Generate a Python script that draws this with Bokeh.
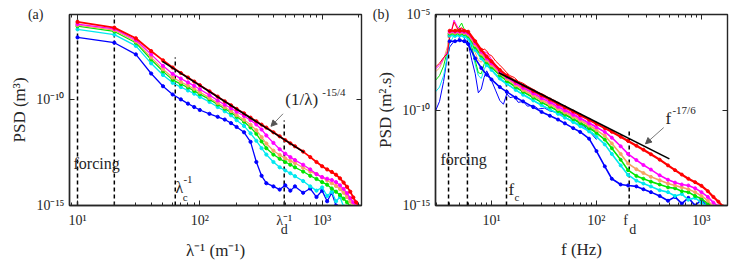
import numpy as np
from bokeh.plotting import figure
from bokeh.layouts import row
from bokeh.models import LogAxis, FixedTicker, Label, Arrow, NormalHead, Range1d
from bokeh.embed import file_html
from bokeh.resources import INLINE

FONT = "Liberation Serif"
TXT = "#262626"
NB = "\u00a0"
ZW = "\u200b"
EN = "\u2002"

k_a = [10, 20, 30, 40, 50, 60, 70, 80, 90, 100, 120, 140, 160, 180, 200, 230, 260, 290, 320, 350,
       400, 450, 500, 550, 600, 700, 800, 900, 1000, 1100, 1200, 1300, 1400, 1500, 1600, 1700,
       1800, 1900, 2000, 2100]
a_red = [-6.35, -6.62, -7.12, -7.72, -8.16, -8.5, -8.76, -8.97, -9.16, -9.33, -9.62, -9.87, -10.09,
         -10.28, -10.45, -10.66, -10.86, -11.03, -11.19, -11.33, -11.55, -11.74, -11.92, -12.07,
         -12.21, -12.46, -12.72, -12.95, -13.15, -13.3, -13.42, -13.55, -13.72, -13.92, -14.12,
         -14.35, -14.62, -14.85, -15.05, -15.3]
a_magenta = [-6.45, -6.68, -7.2, -7.88, -8.42, -8.8, -9.02, -9.2, -9.36, -9.52, -9.8, -10.05, -10.25,
             -10.42, -10.58, -10.78, -10.98, -11.18, -11.42, -11.7, -12.05, -12.35, -12.56, -12.72,
             -12.86, -13.08, -13.3, -13.52, -13.66, -13.74, -13.8, -13.9, -14.05, -14.22, -14.42,
             -14.65, -14.85, -15.05]
a_orange = [-6.5, -6.74, -7.27, -8.02, -8.58, -8.97, -9.18, -9.35, -9.5, -9.66, -9.93, -10.17, -10.37,
            -10.55, -10.74, -10.96, -11.2, -11.45, -11.78, -12.08, -12.42, -12.62, -12.78, -12.9,
            -13.0, -13.22, -13.4, -13.52, -13.68, -13.82, -13.95, -14.08, -14.22, -14.4, -14.6,
            -14.82, -15.05]
a_green = [-6.55, -6.8, -7.33, -8.12, -8.68, -9.08, -9.28, -9.44, -9.6, -9.75, -10.0, -10.24, -10.44,
           -10.62, -10.82, -11.05, -11.32, -11.62, -11.98, -12.3, -12.6, -12.8, -12.95, -13.08,
           -13.2, -13.4, -13.6, -13.75, -13.9, -14.02, -14.2, -14.35, -14.5, -14.68, -14.85, -15.05]
a_cyan = [-6.7, -6.95, -7.48, -8.3, -8.85, -9.22, -9.42, -9.58, -9.73, -9.88, -10.12, -10.36, -10.56,
          -10.75, -10.98, -11.25, -11.6, -11.95, -12.3, -12.6, -12.95, -13.2, -13.35, -13.48,
          -13.62, -13.85, -14.1, -14.3, -14.15, -14.55, -14.35, -14.8, -14.6, -15.05]
a_blue = [-7.08, -7.33, -7.88, -8.78, -9.38, -9.77, -10.0, -10.2, -10.36, -10.5, -10.68, -10.82, -10.95,
          -11.12, -11.3, -11.55, -12.0, -12.95, -13.6, -13.95, -14.1, -14.25, -14.05, -14.3, -14.1,
          -14.4, -14.2, -14.6, -14.3, -14.8, -14.4, -15.0]
a_fit_k = [49.4, 713]
a_fit_psd = [6.2e-9, 3.2e-13]
a_marks_k = [10, 20, 63, 490]
a_marks_top = [6.3e-7, 6.3e-7, 9.5e-9, 1.0e-11]
a_xticks = [10, 100, 490, 1000]
a_xtick_labels = ["10¹", "10²", "λ⁻¹\nd", "10³"]

f_lo = [2.93, 3.2, 3.5, 3.8, 4.0, 4.4, 4.8, 5.2, 5.6, 6.0, 6.5, 7.0, 7.5, 8.0, 8.5, 9.0, 9.5, 10, 11, 12,
        13, 14, 15, 16.5, 18, 20, 22, 25, 28, 32, 36, 40, 45, 50, 56, 63, 70, 80, 90, 100]
b_lo_red = [-7.75, -7.55, -7.25, -7.05, -6.2, -5.4, -5.8, -5.7, -5.9, -5.95, -6.25, -6.55, -6.8, -6.95,
            -6.8, -6.9, -7.1, -7.15, -7.45, -7.65, -7.85, -8.05, -8.2, -8.3, -8.5, -8.6, -8.75, -8.92,
            -9.08, -9.22, -9.4, -9.5, -9.68, -9.8, -9.97, -10.08, -10.24, -10.38, -10.55, -10.66]
b_lo_magenta = [-7.85, -7.65, -7.3, -6.95, -6.2, -5.3, -5.7, -5.75, -5.85, -5.95, -6.35, -6.7, -6.95,
                -7.0, -6.95, -7.0, -7.15, -7.35, -7.65, -7.85, -8.02, -8.2, -8.32, -8.45, -8.62, -8.78,
                -8.92, -9.08, -9.22, -9.38, -9.55, -9.66, -9.8, -9.97, -10.1, -10.25, -10.4, -10.58,
                -10.72, -10.88]
b_lo_orange = [-8.0, -7.8, -7.35, -6.7, -6.05, -5.8, -5.75, -5.7, -5.8, -5.95, -6.5, -7.0, -7.4, -7.5,
               -7.3, -7.2, -7.35, -7.55, -7.85, -8.05, -8.22, -8.35, -8.45, -8.6, -8.75, -8.9, -9.04,
               -9.2, -9.35, -9.52, -9.68, -9.8, -9.94, -10.1, -10.22, -10.38, -10.52, -10.7, -10.86, -11.02]
b_lo_green = [-8.45, -8.2, -7.7, -6.9, -6.2, -5.9, -5.75, -5.45, -5.9, -6.05, -6.7, -7.4, -8.05, -8.1,
              -7.6, -7.3, -7.45, -7.7, -8.0, -8.2, -8.35, -8.48, -8.58, -8.72, -8.88, -9.03, -9.15, -9.35,
              -9.5, -9.68, -9.82, -9.95, -10.08, -10.22, -10.35, -10.5, -10.65, -10.82, -10.98, -11.15]
b_lo_cyan = [-9.05, -8.8, -8.2, -7.2, -6.5, -6.1, -6.0, -5.8, -6.05, -6.2, -6.9, -7.6, -8.2, -8.35, -7.9,
             -7.6, -7.7, -7.9, -8.2, -8.4, -8.55, -8.65, -8.75, -8.9, -9.05, -9.2, -9.3, -9.5, -9.65,
             -9.82, -9.97, -10.1, -10.22, -10.38, -10.5, -10.65, -10.8, -10.98, -11.15, -11.35]
b_lo_blue = [-10.05, -9.55, -8.5, -7.2, -6.7, -6.4, -6.35, -5.95, -6.3, -6.5, -7.4, -8.1, -9.1, -8.9,
             -8.3, -7.95, -8.2, -8.45, -9.0, -9.5, -9.7, -9.15, -9.35, -9.3, -9.6, -9.55, -9.8, -9.75,
             -9.95, -9.9, -10.05, -10.1, -10.2, -10.25, -10.4, -10.55, -10.7, -10.95, -11.25, -11.55]

f_hi = [4, 4.5, 5, 5.5, 6, 7, 8, 9, 10, 12, 14, 17, 20, 25, 30, 36, 43, 50, 60, 70, 85, 100, 120, 140,
        170, 200, 240, 280, 330, 400, 480, 560, 650, 750, 870, 1000, 1150, 1300, 1450, 1600]
b_hi_red = [-5.85, -5.85, -5.85, -5.85, -5.9, -6.4, -6.85, -7.2, -7.45, -7.9, -8.2, -8.5, -8.72, -9.0,
            -9.23, -9.45, -9.67, -9.86, -10.08, -10.27, -10.51, -10.72, -10.95, -11.14, -11.4, -11.62,
            -11.87, -12.08, -12.32, -12.6, -12.9, -13.15, -13.38, -13.6, -13.78, -13.97, -14.25,
            -14.55, -14.8, -15.05]
b_hi_magenta = [-5.9, -5.9, -5.9, -5.92, -5.98, -6.5, -6.95, -7.3, -7.55, -7.98, -8.28, -8.6, -8.84,
                -9.13, -9.38, -9.6, -9.83, -10.02, -10.25, -10.45, -10.7, -10.9, -11.15, -11.45, -11.9,
                -12.3, -12.62, -12.88, -13.12, -13.42, -13.65, -13.8, -13.9, -13.95, -14.1, -14.3,
                -14.55, -14.85, -15.05]
b_hi_orange = [-5.95, -5.95, -5.95, -5.97, -6.05, -6.6, -7.05, -7.4, -7.65, -8.08, -8.38, -8.7, -8.95,
               -9.25, -9.5, -9.72, -9.95, -10.13, -10.36, -10.56, -10.82, -11.05, -11.35, -11.75, -12.3,
               -12.8, -13.1, -13.3, -13.5, -13.68, -13.85, -13.95, -14.05, -14.15, -14.3, -14.5, -14.75,
               -15.05]
b_hi_green = [-6.0, -6.0, -6.0, -6.02, -6.12, -6.7, -7.15, -7.5, -7.75, -8.18, -8.48, -8.8, -9.05, -9.35,
              -9.6, -9.82, -10.05, -10.24, -10.47, -10.68, -10.95, -11.2, -11.55, -12.0, -12.6, -13.15,
              -13.45, -13.6, -13.75, -13.9, -14.05, -14.1, -14.25, -14.3, -14.5, -14.65, -14.9, -15.05]
b_hi_cyan = [-6.1, -6.12, -6.1, -6.15, -6.25, -6.85, -7.3, -7.65, -7.9, -8.35, -8.62, -8.95, -9.2, -9.5,
             -9.75, -9.97, -10.2, -10.4, -10.63, -10.85, -11.12, -11.4, -11.8, -12.3, -12.9, -13.4,
             -13.7, -13.85, -14.0, -14.2, -14.3, -14.5, -14.4, -14.7, -14.6, -14.85, -15.05]
b_hi_blue = [-6.4, -6.4, -6.35, -6.4, -6.55, -7.3, -7.8, -8.15, -8.4, -8.8, -9.05, -9.35, -9.55, -9.85,
             -10.1, -10.3, -10.5, -10.7, -10.95, -11.15, -11.5, -12.15, -12.95, -13.6, -13.9, -13.95,
             -14.0, -14.15, -14.3, -14.5, -14.75, -14.55, -14.9, -14.6, -15.0, -14.7, -15.1]
b_fit_f = [11.7, 495]
b_fit_psd = [8.9e-9, 2.75e-13]
b_marks_f = [3.9, 5.9, 13.9, 205]
b_marks_top = [1.26e-6, 1.26e-6, 6.3e-9, 1.0e-11]
b_xticks = [10, 100, 205, 1000]
b_xtick_labels = ["10¹", "10²", "f" + EN + ZW + "\n" + ZW + EN + "d", "10³"]

COLORS = {"blue": "#0000ff", "cyan": "#00e8f0", "green": "#00e600",
          "orange": "#f5a462", "magenta": "#ff00ff", "red": "#ff0000"}
ORDER = ["blue", "cyan", "green", "orange", "magenta", "red"]

SUP = str.maketrans("0123456789-", "⁰¹²³⁴⁵⁶⁷⁸⁹⁻")


def dec_label(e):
    return "10" + str(e).translate(SUP)


def make_fig(w, h, xr, yr, bl, br, bt, bb, xt, xlabels, xt_top, xminor, yt, ylabels,
             xlabel, ylabel, ylab_standoff, xlab_standoff):
    p = figure(width=w, height=h, x_axis_type="log", y_axis_type="log",
               x_range=Range1d(*xr), y_range=Range1d(*yr),
               output_backend="svg", toolbar_location=None,
               min_border_left=bl, min_border_right=br, min_border_top=bt, min_border_bottom=bb)
    p.grid.visible = False
    p.outline_line_color = TXT
    p.outline_line_width = 1.4
    p.background_fill_color = "white"
    p.border_fill_color = "white"
    xa = p.xaxis[0]
    ya = p.yaxis[0]
    xa.ticker = FixedTicker(ticks=xt, minor_ticks=xminor)
    ya.ticker = FixedTicker(ticks=yt, minor_ticks=[])
    xa.major_label_overrides = dict(zip(xt, xlabels))
    ya.major_label_overrides = ylabels
    for ax in (xa, ya):
        ax.major_tick_in = 5
        ax.major_tick_out = 0
        ax.minor_tick_in = 3
        ax.minor_tick_out = 0
        ax.axis_line_color = TXT
        ax.axis_line_width = 1.4
        ax.major_tick_line_color = TXT
        ax.minor_tick_line_color = TXT
        ax.major_label_text_font = FONT
        ax.major_label_text_font_size = "14px"
        ax.major_label_text_color = TXT
        ax.axis_label_text_font = FONT
        ax.axis_label_text_font_size = "17px"
        ax.axis_label_text_font_style = "normal"
        ax.axis_label_text_color = TXT
    xa.major_label_text_line_height = 0.65
    xa.axis_label = xlabel
    ya.axis_label = ylabel
    xa.major_label_standoff = 7
    xa.axis_label_standoff = xlab_standoff
    ya.major_label_standoff = 5
    ya.axis_label_standoff = ylab_standoff
    top = LogAxis(ticker=FixedTicker(ticks=xt_top, minor_ticks=xminor),
                  major_label_overrides={t: "" for t in xt_top})
    right = LogAxis(ticker=FixedTicker(ticks=yt, minor_ticks=[]),
                    major_label_overrides={t: "" for t in yt})
    for ax in (top, right):
        ax.major_tick_in = 5
        ax.major_tick_out = 0
        ax.minor_tick_in = 3
        ax.minor_tick_out = 0
        ax.major_label_text_font_size = "0px"
        ax.major_label_standoff = 0
        ax.axis_line_color = None
        ax.major_tick_line_color = TXT
        ax.minor_tick_line_color = TXT
    p.add_layout(top, "above")
    p.add_layout(right, "right")
    return p


def add_text(p, x, y, text, size):
    p.add_layout(Label(x=x, y=y, text=text, text_font=FONT, text_font_size=size,
                       text_color=TXT, text_baseline="middle", text_align="left"))


# ---------------- panel (a) ----------------
ylab_a = {1e-15: dec_label(-15), 1e-10: dec_label(-10), 1e-6: "(a)" + NB * 6 + ZW}
pa = make_fig(366, 264, (8.6, 2100), (1e-15, 1e-6), 69, 5, 14, 59,
              a_xticks, a_xtick_labels, [10, 100, 1000],
              [9, 20, 30, 40, 50, 60, 70, 80, 90, 200, 300, 400, 500, 600, 700, 800, 900, 2000],
              [1e-15, 1e-10, 1e-6], ylab_a, "λ⁻¹ (m⁻¹)", "PSD (m³)", -4, 1)

for kx, top_ in zip(a_marks_k, a_marks_top):
    pa.line([kx, kx], [1e-15, top_], line_color="black", line_width=1.5, line_dash="4 3")

series_a = {"blue": a_blue, "cyan": a_cyan, "green": a_green,
            "orange": a_orange, "magenta": a_magenta, "red": a_red}
for name in ORDER:
    vals = 10.0 ** np.array(series_a[name])
    ks = k_a[:len(vals)]
    lw = 1.8 if name == "red" else 1.3
    pa.line(ks, vals, line_color=COLORS[name], line_width=lw)
    pa.scatter(ks, vals, size=3.2, color=COLORS[name])

pa.line(a_fit_k, a_fit_psd, line_color="black", line_width=1.6)

add_text(pa, 9.27, 9.5e-14, "forcing", "16px")
add_text(pa, 63.2, 7.0e-15, "λ", "16px")
add_text(pa, 72.5, 2.6e-15, "c", "11px")
add_text(pa, 73.5, 1.7e-14, "-1", "11px")
add_text(pa, 500, 1.0e-10, "(1/λ)", "17px")
add_text(pa, 1004, 2.3e-10, "-15/4", "11px")
pa.add_layout(Arrow(end=NormalHead(size=6, fill_color="#555555", line_color="#555555"),
                    x_start=479, y_start=2.1e-11, x_end=382, y_end=5.4e-12,
                    line_color="#555555", line_width=0.8))

# ---------------- panel (b) ----------------
ylab_b = {1e-15: dec_label(-15), 1e-10: dec_label(-10), 1e-5: "(b)" + NB * 5 + dec_label(-5)}
pb = make_fig(370, 264, (2.93, 1770), (1e-15, 1e-5), 69, 9, 14, 54,
              b_xticks, b_xtick_labels, [10, 100, 1000],
              [3, 4, 5, 6, 7, 8, 9, 20, 30, 40, 50, 60, 70, 80, 90, 200, 300, 400, 500, 600, 700, 800, 900],
              [1e-15, 1e-10, 1e-5], ylab_b, "f (Hz)", "PSD (m².s)", -25, 0)

for fx, top_ in zip(b_marks_f, b_marks_top):
    pb.line([fx, fx], [1e-15, top_], line_color="black", line_width=1.5, line_dash="4 3")

series_lo = {"blue": b_lo_blue, "cyan": b_lo_cyan, "green": b_lo_green,
             "orange": b_lo_orange, "magenta": b_lo_magenta, "red": b_lo_red}
series_hi = {"blue": b_hi_blue, "cyan": b_hi_cyan, "green": b_hi_green,
             "orange": b_hi_orange, "magenta": b_hi_magenta, "red": b_hi_red}
for name in ORDER:
    lo = 10.0 ** np.array(series_lo[name])
    pb.line(f_lo, lo, line_color=COLORS[name], line_width=1.0)
for name in ORDER:
    hi = 10.0 ** np.array(series_hi[name])
    fs = f_hi[:len(hi)]
    lw = 2.2 if name == "red" else 1.6
    pb.line(fs, hi, line_color=COLORS[name], line_width=lw)
    pb.scatter(fs, hi, size=3.0, color=COLORS[name])

pb.line(b_fit_f, b_fit_psd, line_color="black", line_width=1.6)

add_text(pb, 3.27, 2.5e-13, "forcing", "16px")
add_text(pb, 14.5, 6.6e-15, "f", "17px")
add_text(pb, 16.6, 2.9e-15, "c", "11px")
add_text(pb, 454, 3.5e-11, "f", "17px")
add_text(pb, 529, 1.0e-10, "-17/6", "11px")
pb.add_layout(Arrow(end=NormalHead(size=6, fill_color="#555555", line_color="#555555"),
                    x_start=437, y_start=1.2e-11, x_end=293, y_end=1.7e-12,
                    line_color="#555555", line_width=0.8))

layout = row(pa, pb)
open("out.html", "w").write(file_html(layout, INLINE))
